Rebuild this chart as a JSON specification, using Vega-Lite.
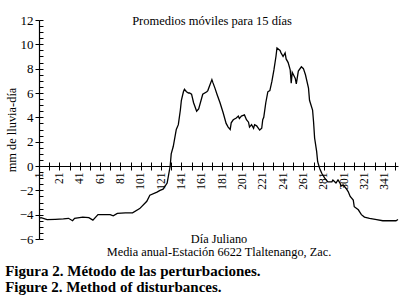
{
  "$schema": "https://vega.github.io/schema/vega-lite/v6.json",
  "width": 359,
  "height": 219,
  "autosize": {"type": "none"},
  "padding": {"left": 39, "top": 20, "right": 5, "bottom": 57},
  "background": "white",
  "config": {
    "font": "Liberation Serif",
    "view": {"stroke": null},
    "axis": {"grid": false, "domainColor": "black", "tickColor": "black", "labelColor": "black", "titleColor": "black", "labelFont": "Liberation Serif", "titleFont": "Liberation Serif", "titleFontWeight": "normal"}
  },
  "title": {
    "text": ["Figura 2. Método de las perturbaciones.", "Figure 2. Method of disturbances."],
    "orient": "bottom",
    "anchor": "start",
    "frame": "bounds",
    "font": "Liberation Serif",
    "fontSize": 15,
    "fontWeight": "bold",
    "color": "black",
    "lineHeight": 15.5,
    "offset": 7
  },
  "data": {"values": [
    {"day":1,"mm":-4.3},{"day":3,"mm":-4.25},{"day":9,"mm":-4.4},{"day":17,"mm":-4.38},{"day":25,"mm":-4.35},
    {"day":30,"mm":-4.3},{"day":34,"mm":-4.5},{"day":36,"mm":-4.3},{"day":44,"mm":-4.2},{"day":50,"mm":-4.25},
    {"day":54,"mm":-4.45},{"day":59,"mm":-4.0},{"day":66,"mm":-4.0},{"day":71,"mm":-4.0},{"day":74,"mm":-4.1},
    {"day":78,"mm":-3.9},{"day":86,"mm":-3.85},{"day":93,"mm":-3.85},{"day":100,"mm":-3.5},{"day":107,"mm":-2.9},
    {"day":110,"mm":-2.4},{"day":117,"mm":-2.15},{"day":120,"mm":-2.0},{"day":123,"mm":-1.9},{"day":127,"mm":-1.4},
    {"day":130,"mm":0.0},{"day":131,"mm":1.0},{"day":133,"mm":1.6},{"day":136,"mm":3.0},{"day":138,"mm":3.4},
    {"day":140,"mm":4.6},{"day":141,"mm":5.4},{"day":143,"mm":6.1},{"day":144,"mm":6.3},{"day":146,"mm":6.1},
    {"day":148,"mm":6.0},{"day":149,"mm":6.0},{"day":151,"mm":5.9},{"day":153,"mm":5.2},{"day":156,"mm":4.5},
    {"day":158,"mm":4.7},{"day":162,"mm":5.9},{"day":166,"mm":6.1},{"day":167,"mm":6.2},{"day":171,"mm":7.1},
    {"day":172,"mm":6.85},{"day":174,"mm":6.4},{"day":176,"mm":5.9},{"day":179,"mm":5.2},{"day":182,"mm":4.4},
    {"day":185,"mm":3.5},{"day":187,"mm":3.2},{"day":189,"mm":3.0},{"day":190,"mm":3.55},{"day":192,"mm":3.8},
    {"day":195,"mm":3.95},{"day":197,"mm":4.1},{"day":198,"mm":3.9},{"day":200,"mm":4.1},{"day":203,"mm":4.2},
    {"day":205,"mm":3.8},{"day":207,"mm":3.6},{"day":208,"mm":3.2},{"day":210,"mm":3.4},{"day":212,"mm":3.1},
    {"day":213,"mm":3.4},{"day":215,"mm":3.3},{"day":218,"mm":2.95},{"day":220,"mm":3.1},{"day":221,"mm":3.8},
    {"day":222,"mm":4.0},{"day":224,"mm":5.2},{"day":226,"mm":6.1},{"day":228,"mm":6.2},{"day":230,"mm":6.95},
    {"day":232,"mm":7.9},{"day":234,"mm":9.0},{"day":235,"mm":9.7},{"day":238,"mm":9.5},{"day":239,"mm":9.3},
    {"day":241,"mm":9.0},{"day":243,"mm":9.3},{"day":244,"mm":8.8},{"day":246,"mm":8.5},{"day":248,"mm":7.9},
    {"day":249,"mm":6.8},{"day":250,"mm":7.7},{"day":253,"mm":7.2},{"day":254,"mm":6.75},{"day":256,"mm":7.8},
    {"day":259,"mm":8.15},{"day":261,"mm":8.0},{"day":263,"mm":7.5},{"day":266,"mm":6.4},{"day":267,"mm":5.4},
    {"day":270,"mm":4.6},{"day":271,"mm":3.6},{"day":272,"mm":2.3},{"day":274,"mm":1.2},{"day":275,"mm":0.35},
    {"day":277,"mm":-0.2},{"day":279,"mm":-0.6},{"day":282,"mm":-1.0},{"day":285,"mm":-1.3},{"day":289,"mm":-1.3},
    {"day":290,"mm":-1.15},{"day":293,"mm":-1.4},{"day":295,"mm":-1.15},{"day":297,"mm":-1.4},{"day":298,"mm":-1.65},
    {"day":300,"mm":-1.55},{"day":303,"mm":-1.85},{"day":305,"mm":-2.1},{"day":307,"mm":-2.5},{"day":310,"mm":-2.8},
    {"day":311,"mm":-3.35},{"day":315,"mm":-3.6},{"day":318,"mm":-4.0},{"day":321,"mm":-4.2},{"day":326,"mm":-4.3},
    {"day":333,"mm":-4.4},{"day":339,"mm":-4.5},{"day":352,"mm":-4.5},{"day":354,"mm":-4.4}
  ]},
  "layer": [
    {
      "mark": {"type": "line", "color": "black", "strokeWidth": 1.3},
      "encoding": {
        "x": {
          "field": "day", "type": "quantitative",
          "scale": {"domain": [1, 354], "nice": false, "zero": false},
          "axis": {
            "orient": "bottom", "offset": -73,
            "values": [1,11,21,31,41,51,61,71,81,91,101,111,121,131,141,151,161,171,181,191,201,211,221,231,241,251,261,271,281,291,301,311,321,331,341,351],
            "labelExpr": "(datum.value - 1) % 20 == 0 ? datum.label : ''",
            "labelAngle": 270, "labelFontSize": 11.5, "labelPadding": 2,
            "tickSize": 4, "domainWidth": 1.2,
            "title": ["Día Juliano", "Media anual-Estación 6622 Tlaltenango, Zac."],
            "titleFontSize": 12.3, "titleLineHeight": 13, "titleBaseline": "top", "titleY": 66
          }
        },
        "y": {
          "field": "mm", "type": "quantitative",
          "scale": {"domain": [-6, 12], "nice": false, "zero": false},
          "axis": {
            "orient": "left",
            "values": [-6,-4,-2,0,2,4,6,8,10,12],
            "labelFontSize": 13, "labelPadding": 2, "tickSize": 4, "domainWidth": 1.2,
            "title": "mm de lluvia-día",
            "titleFontSize": 12.4, "titlePadding": 1
          }
        }
      }
    },
    {
      "mark": {"type": "line", "opacity": 0},
      "encoding": {
        "x": {
          "field": "day", "type": "quantitative",
          "scale": {"domain": [1, 354], "nice": false, "zero": false},
          "axis": {
            "orient": "bottom", "offset": -73,
            "values": [1,11,21,31,41,51,61,71,81,91,101,111,121,131,141,151,161,171,181,191,201,211,221,231,241,251,261,271,281,291,301,311,321,331,341,351],
            "labels": false, "domain": false, "tickSize": -4, "title": null
          }
        },
        "y": {
          "field": "mm", "type": "quantitative",
          "scale": {"domain": [-6, 12], "nice": false, "zero": false},
          "axis": {
            "orient": "left",
            "values": [-6,-5.5,-5,-4.5,-4,-3.5,-3,-2.5,-2,-1.5,-1,-0.5,0,0.5,1,1.5,2,2.5,3,3.5,4,4.5,5,5.5,6,6.5,7,7.5,8,8.5,9,9.5,10,10.5,11,11.5,12],
            "labels": false, "domain": false, "tickSize": -4, "title": null
          }
        }
      }
    },
    {
      "mark": {"type": "line", "opacity": 0},
      "encoding": {
        "x": {
          "field": "day", "type": "quantitative",
          "scale": {"domain": [1, 354], "nice": false, "zero": false},
          "axis": {
            "orient": "top", "labels": false, "domain": false, "ticks": false,
            "title": "Promedios móviles para 15 días",
            "titleFontSize": 12.5, "titleBaseline": "alphabetic", "titleAlign": "center", "titleY": 4, "titleX": 172.5
          }
        },
        "y": {"field": "mm", "type": "quantitative", "axis": null}
      }
    }
  ],
  "resolve": {"axis": {"x": "independent", "y": "independent"}}
}
